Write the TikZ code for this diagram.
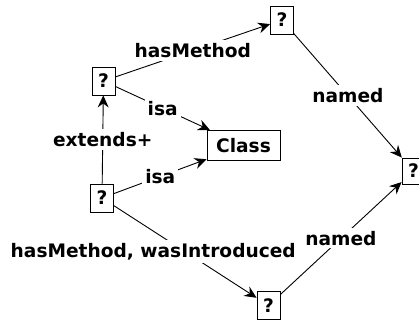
\documentclass[tikz,border=0pt]{standalone}
\usepackage{fontspec}
\setmainfont{DejaVu Sans}
\usetikzlibrary{arrows.meta}
\begin{document}
\begin{tikzpicture}[x=1bp,y=-1bp,
  every node/.style={font=\bfseries\fontsize{18.6bp}{20bp}\selectfont},
  qbox/.style={draw,line width=0.9bp,minimum width=23bp,minimum height=28bp,inner sep=0pt},
  lbl/.style={fill=white,inner sep=3bp},
  rel/.style={line width=0.9bp,-{Stealth[length=12bp,width=11bp,inset=4bp]}}]
\useasboundingbox (0,0) rectangle (419,323);
\node[qbox] (a) at (103.5,81) {?};
\node[qbox] (b) at (102,198) {?};
\node[qbox,minimum width=73bp,minimum height=30bp] (cls) at (243.5,145.5) {Class};
\node[qbox] (t) at (282,20) {?};
\node[qbox,minimum height=26bp] (r) at (413.5,171) {?};
\node[qbox] (bt) at (268.5,305.5) {?};
\draw[rel] (a) -- node[lbl] {hasMethod} (t);
\draw[rel] (a) -- node[lbl] {isa} (cls);
\draw[rel] (b) -- node[lbl] {extends+} (a);
\draw[rel] (b) -- node[lbl] {isa} (cls);
\draw[rel] (b) -- node[lbl,xshift=-32bp] {hasMethod, wasIntroduced} (bt);
\draw[rel] (t) -- node[lbl] {named} (r);
\draw[rel] (bt) -- node[lbl] {named} (r);
\end{tikzpicture}
\end{document}
